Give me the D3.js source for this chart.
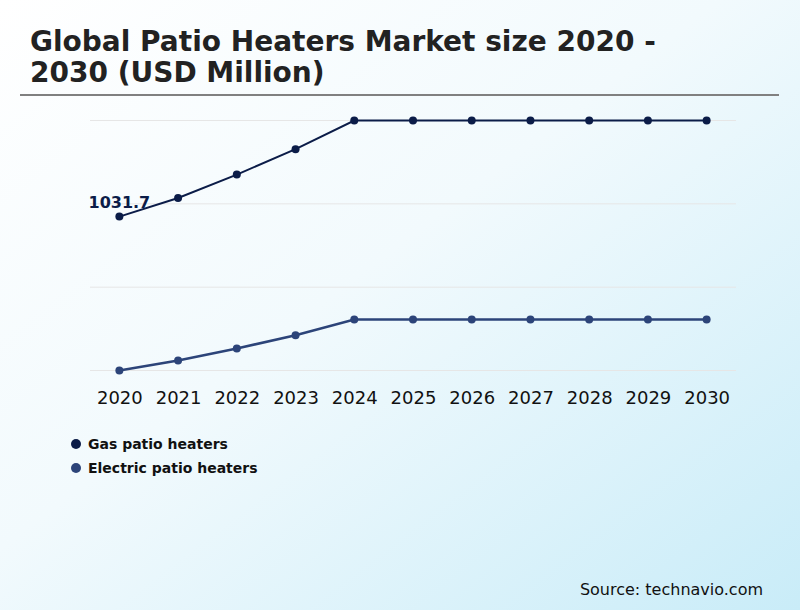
<!DOCTYPE html>
<html>
<head>
<meta charset="utf-8">
<script src="https://cdn.jsdelivr.net/npm/d3@7"></script>
<style>
  html, body { margin: 0; padding: 0; }
  body { width: 800px; height: 610px; overflow: hidden; font-family: "DejaVu Sans", sans-serif; }
</style>
</head>
<body>
<div id="chart"></div>
<script>
// data (USD million)
var years = ['2020', '2021', '2022', '2023', '2024', '2025', '2026', '2027', '2028', '2029', '2030'];
var gasValues = [1031.7, 1087.7, 1157.8, 1234, 1320, 1320, 1320, 1320, 1320, 1320, 1320];
var electricValues = [570, 600, 636, 676, 723, 723, 723, 723, 723, 723, 723];
var seriesNames = ['Gas patio heaters', 'Electric patio heaters'];
var seriesColors = ['#0b1c48', '#2c4479'];
var gridValues = [570, 820, 1070, 1320];

var width = 800, height = 610;
var margin = { top: 120.5, right: 64, bottom: 239.5, left: 90 };

var svg = d3.select('#chart')
    .append('svg')
    .attr('width', width)
    .attr('height', height);

// background gradient
var defs = svg.append('defs');
var grad = defs.append('linearGradient')
    .attr('id', 'bg')
    .attr('x1', '0%').attr('y1', '0%')
    .attr('x2', '100%').attr('y2', '100%');
grad.append('stop').attr('offset', '0%').attr('stop-color', '#ffffff');
grad.append('stop').attr('offset', '45%').attr('stop-color', '#f2fafd');
grad.append('stop').attr('offset', '100%').attr('stop-color', '#c9ecf8');

svg.append('rect')
    .attr('width', width)
    .attr('height', height)
    .attr('fill', 'url(#bg)');

// title
var title = svg.append('text')
    .attr('x', 30)
    .attr('y', 51)
    .attr('font-size', 28)
    .attr('font-weight', 'bold')
    .attr('fill', '#222222');
title.append('tspan').attr('x', 30).text('Global Patio Heaters Market size 2020 -');
title.append('tspan').attr('x', 30).attr('dy', 31).text('2030 (USD Million)');

svg.append('line')
    .attr('x1', 20).attr('x2', 779)
    .attr('y1', 95).attr('y2', 95)
    .attr('stroke', '#808080')
    .attr('stroke-width', 2);

var innerW = width - margin.left - margin.right,
    innerH = height - margin.top - margin.bottom;

var g = svg.append('g')
    .attr('transform', 'translate(' + margin.left + ',' + margin.top + ')');

var xScale = d3.scalePoint()
    .domain(years)
    .range([0, innerW])
    .padding(0.5);

var yScale = d3.scaleLinear()
    .domain([gridValues[0], gridValues[gridValues.length - 1]])
    .range([innerH, 0]);

// grid lines
g.selectAll('.grid')
    .data(gridValues)
    .enter()
    .append('line')
    .attr('class', 'grid')
    .attr('x1', 0)
    .attr('x2', innerW)
    .attr('y1', function(d) { return yScale(d); })
    .attr('y2', function(d) { return yScale(d); })
    .attr('stroke', '#e6e6e6')
    .attr('stroke-width', 1);

// x axis
var xAxis = d3.axisBottom(xScale).tickSize(0).tickPadding(21);
var xG = g.append('g')
    .attr('class', 'x-axis')
    .attr('transform', 'translate(0,' + innerH + ')')
    .call(xAxis);
xG.select('.domain').remove();
xG.selectAll('text')
    .attr('font-size', 18)
    .attr('font-family', 'DejaVu Sans, sans-serif')
    .attr('fill', '#111111');

var series = [
    { name: seriesNames[0], values: gasValues, color: seriesColors[0], width: 2 },
    { name: seriesNames[1], values: electricValues, color: seriesColors[1], width: 2.5 }
];

var line = d3.line()
    .x(function(d, i) { return xScale(years[i]); })
    .y(function(d) { return yScale(d); });

series.forEach(function(s) {
    g.append('path')
        .datum(s.values)
        .attr('fill', 'none')
        .attr('stroke', s.color)
        .attr('stroke-width', s.width)
        .attr('d', line);

    g.selectAll(null)
        .data(s.values)
        .enter()
        .append('circle')
        .attr('cx', function(d, i) { return xScale(years[i]); })
        .attr('cy', function(d) { return yScale(d); })
        .attr('r', 4)
        .attr('fill', s.color);
});

// first value label
g.append('text')
    .attr('x', xScale(years[0]))
    .attr('y', yScale(gasValues[0]) - 9)
    .attr('text-anchor', 'middle')
    .attr('font-size', 16)
    .attr('font-weight', 'bold')
    .attr('fill', seriesColors[0])
    .text(d3.format('.1f')(gasValues[0]));

// legend
var legend = svg.selectAll('.legend')
    .data(series)
    .enter()
    .append('g')
    .attr('class', 'legend')
    .attr('transform', function(d, i) { return 'translate(76,' + (444 + i * 24) + ')'; });

legend.append('circle')
    .attr('r', 5)
    .attr('fill', function(d) { return d.color; });

legend.append('text')
    .attr('x', 12)
    .attr('y', 5)
    .attr('font-size', 14)
    .attr('font-weight', 'bold')
    .attr('fill', '#111111')
    .text(function(d) { return d.name; });

// source
svg.append('text')
    .attr('x', 763)
    .attr('y', 595)
    .attr('text-anchor', 'end')
    .attr('font-size', 16)
    .attr('fill', '#111111')
    .text('Source: technavio.com');
</script>
</body>
</html>
